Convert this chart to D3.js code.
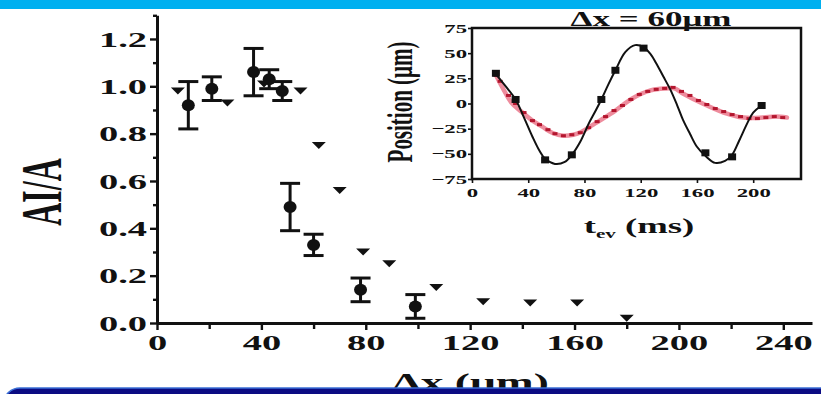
<!DOCTYPE html>
<html>
<head>
<meta charset="utf-8">
<script src="https://cdn.jsdelivr.net/npm/d3@7"></script>
<style>
  html, body { margin: 0; padding: 0; background: #fff; }
  svg { display: block; }
</style>
</head>
<body>
<svg id="fig" width="821" height="394"></svg>
<script>
// ---- Main panel: relative amplitude vs. separation ----
// measured points (filled circles with error bars)
const measuredDx    = [12, 21, 37, 43, 48, 51, 60, 78, 99];
const measuredRatio = [0.92, 0.99, 1.06, 1.03, 0.98, 0.49, 0.33, 0.14, 0.07];
const measuredErr   = [0.10, 0.05, 0.10, 0.04, 0.04, 0.10, 0.045, 0.05, 0.05];
// calculated points (inverted triangles)
const modelDx    = [8, 27, 41, 55, 62, 70, 79, 89, 107, 125, 143, 161, 180];
const modelRatio = [0.98, 0.93, 1.01, 0.98, 0.75, 0.56, 0.30, 0.25, 0.15, 0.09, 0.085, 0.085, 0.02];
const xMajorTicks = [0, 40, 80, 120, 160, 200, 240];
const xMinorTicks = [20, 60, 100, 140, 180, 220];
const yMajorTicks = [0, 0.2, 0.4, 0.6, 0.8, 1.0, 1.2];
const yMinorTicks = [0.1, 0.3, 0.5, 0.7, 0.9, 1.1, 1.3];
const xTitle = "Δx (μm)";
const yTitle = "AI/A";

// ---- Inset: position vs. time ----
const insetTitle = "Δx = 60μm";
const insetYTicks = [-75, -50, -25, 0, 25, 50, 75];
const insetXTicks = [0, 40, 80, 120, 160, 200];
const blackT   = [17, 31, 52, 71, 92, 102, 122, 166, 185, 206];
const blackPos = [30, 4, -56, -51, 4, 33, 55, -49, -53, -2];
const blackFitT   = [16, 24, 31, 37, 43, 48, 52, 59, 66, 71, 77, 83, 88, 92, 97, 102, 109, 116, 122, 127, 131, 136, 141, 146, 150, 155, 160, 166, 173, 180, 185, 190, 196, 200, 205];
const blackFitPos = [31, 17, 4, -14, -33, -47, -55, -60, -58, -51, -38, -20, -7, 4, 19, 33, 51, 58, 56, 49, 40, 27, 14, -2, -16, -30, -43, -52, -59, -57, -51, -37, -19, -9, -3];
const redT   = [17, 20, 26, 31, 37, 43, 48, 54, 59, 65, 71, 77, 83, 89, 95, 101, 107, 113, 119, 125, 131, 137, 143, 149, 155, 161, 167, 173, 179, 185, 191, 197, 203, 209, 215, 221];
const redPos = [28, 22, 8, 0, -9, -17, -21, -26, -30, -32, -31, -29, -24, -18, -13, -7, -2, 4, 9, 12, 14, 15, 16, 12, 8, 3, -1, -5, -8, -11, -13, -15, -15, -14, -13, -14];
const redFitT   = [16, 22, 28, 35, 43, 50, 57, 65, 72, 78, 85, 92, 102, 114, 127, 138, 144, 150, 164, 179, 193, 207, 216, 224];
const redFitPos = [31, 15, 1, -8, -17, -23, -29, -32, -31, -28, -22, -16, -7, 5, 13, 15, 15, 10, 0, -9, -14, -14, -13, -14];

const W = 821, H = 394;
const SX = 1.75;                 // horizontal glyph stretch of the typeset figure
const serif = "'Liberation Serif', 'DejaVu Serif', serif";
const svg = d3.select("#fig");

svg.append("rect").attr("width", W).attr("height", H).attr("fill", "#fff");

// helper: stretched serif text
function label(g, str, x, y, size, anchor, rotate) {
  return g.append("text")
    .attr("transform", `translate(${x},${y}) scale(${SX},1)` + (rotate ? ` rotate(${rotate})` : ""))
    .attr("text-anchor", anchor || "middle")
    .attr("font-family", serif)
    .attr("font-weight", "bold")
    .attr("font-size", size)
    .attr("fill", "#111")
    .text(str);
}

// ================= main panel =================
const x = d3.scaleLinear().domain([0, 251]).range([157, 812]);
const y = d3.scaleLinear().domain([0, 1.3]).range([323, 15.3]);

const main = svg.append("g");

function styleAxis(g, size, width) {
  g.selectAll("path.domain").attr("stroke", "#111").attr("stroke-width", width);
  g.selectAll(".tick line").attr("stroke", "#111").attr("stroke-width", width * 0.8);
  g.attr("font-family", serif).attr("font-size", size).attr("font-weight", "bold");
  g.selectAll(".tick text").attr("fill", "#111");
}

// x axis
const gxMinor = main.append("g").attr("transform", `translate(0,${y(0)})`)
  .call(d3.axisBottom(x).tickValues(xMinorTicks).tickSize(6).tickSizeOuter(0).tickFormat(""));
gxMinor.select("path.domain").remove();
styleAxis(gxMinor, 22, 3);
const gx = main.append("g").attr("transform", `translate(0,${y(0)})`)
  .call(d3.axisBottom(x).tickValues(xMajorTicks).tickSize(7).tickSizeOuter(0).tickFormat(d3.format("d")));
styleAxis(gx, 22, 3);
gx.selectAll(".tick text").attr("y", 11).attr("transform", `scale(${SX},1)`);

// y axis
const gyMinor = main.append("g").attr("transform", `translate(${x(0)},0)`)
  .call(d3.axisLeft(y).tickValues(yMinorTicks).tickSize(4).tickSizeOuter(0).tickFormat(""));
gyMinor.select("path.domain").remove();
styleAxis(gyMinor, 22, 3);
const gy = main.append("g").attr("transform", `translate(${x(0)},0)`)
  .call(d3.axisLeft(y).tickValues(yMajorTicks).tickSize(7).tickSizeOuter(0).tickFormat(d3.format(".1f")));
styleAxis(gy, 22, 3);
gy.selectAll(".tick text").attr("x", -10 / SX).attr("transform", `scale(${SX},1)`);

// axis titles
label(main, yTitle, 42, 192, 32, "middle", -90).attr("dominant-baseline", "central");
label(main, xTitle, (x(0) + x(251)) / 2 - 14, 391, 26, "middle");

// error bars
const measured = measuredDx.map((d, i) => ({ dx: d, r: measuredRatio[i], e: measuredErr[i] }));
const eb = main.append("g").attr("stroke", "#111").attr("stroke-width", 3);
measured.forEach(d => {
  const cx = x(d.dx), top = y(d.r + d.e), bot = y(Math.max(0, d.r - d.e));
  eb.append("line").attr("x1", cx).attr("x2", cx).attr("y1", top).attr("y2", bot);
  eb.append("line").attr("x1", cx - 10).attr("x2", cx + 10).attr("y1", top).attr("y2", top);
  eb.append("line").attr("x1", cx - 10).attr("x2", cx + 10).attr("y1", bot).attr("y2", bot);
});
main.append("g").selectAll("ellipse").data(measured).join("ellipse")
  .attr("cx", d => x(d.dx)).attr("cy", d => y(d.r))
  .attr("rx", 6.5).attr("ry", 6).attr("fill", "#111");

// model triangles
const model = modelDx.map((d, i) => ({ dx: d, r: modelRatio[i] }));
main.append("g").selectAll("path").data(model).join("path")
  .attr("transform", d => `translate(${x(d.dx)},${y(d.r)})`)
  .attr("d", "M-7,-3.5L7,-3.5L0,3.5Z")
  .attr("fill", "#111");

// ================= inset =================
const ix = d3.scaleLinear().domain([0, 234]).range([472, 801]);
const iy = d3.scaleLinear().domain([-75, 75]).range([179, 28]);
const inset = svg.append("g");

inset.append("rect")
  .attr("x", ix(0)).attr("y", iy(75))
  .attr("width", ix(234) - ix(0)).attr("height", iy(-75) - iy(75))
  .attr("fill", "#fff").attr("stroke", "#111").attr("stroke-width", 2.5);

const igy = inset.append("g").attr("transform", `translate(${ix(0)},0)`)
  .call(d3.axisLeft(iy).tickValues(insetYTicks).tickSize(4).tickSizeOuter(0).tickFormat(d3.format("d")));
igy.select("path.domain").remove();
styleAxis(igy, 13, 2);
igy.selectAll(".tick text").attr("x", -5 / SX).attr("transform", `scale(${SX},1)`);

const igx = inset.append("g").attr("transform", `translate(0,${iy(-75)})`)
  .call(d3.axisBottom(ix).tickValues(insetXTicks).tickSize(4).tickSizeOuter(0).tickFormat(d3.format("d")));
igx.select("path.domain").remove();
styleAxis(igx, 13, 2);
igx.selectAll(".tick text").attr("y", 9).attr("transform", `scale(${SX},1)`);

label(inset, insetTitle, 651, 26, 20, "middle");
label(inset, "Position (μm)", 399, 102, 21, "middle", -90).attr("dominant-baseline", "central");

const tl = inset.append("text")
  .attr("transform", `translate(639,233) scale(${SX},1)`)
  .attr("text-anchor", "middle")
  .attr("font-family", serif).attr("font-weight", "bold").attr("font-size", 21).attr("fill", "#111");
tl.append("tspan").text("t");
tl.append("tspan").attr("font-size", 12).attr("dy", 5).text("ev");
tl.append("tspan").attr("dy", -5).text(" (ms)");

const line = d3.line().x(d => ix(d[0])).y(d => iy(d[1])).curve(d3.curveCatmullRom);

// red fit (broad, faint band) and red points
inset.append("path")
  .attr("d", line(redFitT.map((t, i) => [t, redFitPos[i]])))
  .attr("fill", "none").attr("stroke", "#e8667c").attr("stroke-opacity", 0.75)
  .attr("stroke-width", 4.5).attr("stroke-linecap", "round");
inset.append("g").selectAll("rect").data(redT.map((t, i) => [t, redPos[i]])).join("rect")
  .attr("x", d => ix(d[0]) - 2.5).attr("y", d => iy(d[1]) - 1.5)
  .attr("width", 5).attr("height", 3).attr("fill", "#b3162e");

// black fit and black points
inset.append("path")
  .attr("d", line(blackFitT.map((t, i) => [t, blackFitPos[i]])))
  .attr("fill", "none").attr("stroke", "#111").attr("stroke-width", 2);
inset.append("g").selectAll("rect").data(blackT.map((t, i) => [t, blackPos[i]])).join("rect")
  .attr("x", d => ix(d[0]) - 4).attr("y", d => iy(d[1]) - 3.5)
  .attr("width", 8).attr("height", 7).attr("fill", "#111");

// ================= frame decorations =================
svg.append("rect").attr("x", 0).attr("y", 0).attr("width", W).attr("height", 9).attr("fill", "#00b0f0");
svg.append("rect").attr("x", 4).attr("y", 388).attr("width", 840).attr("height", 30).attr("rx", 16)
  .attr("fill", "#0b0b82").attr("stroke", "#3b6fd6").attr("stroke-width", 1.5);
</script>
</body>
</html>
